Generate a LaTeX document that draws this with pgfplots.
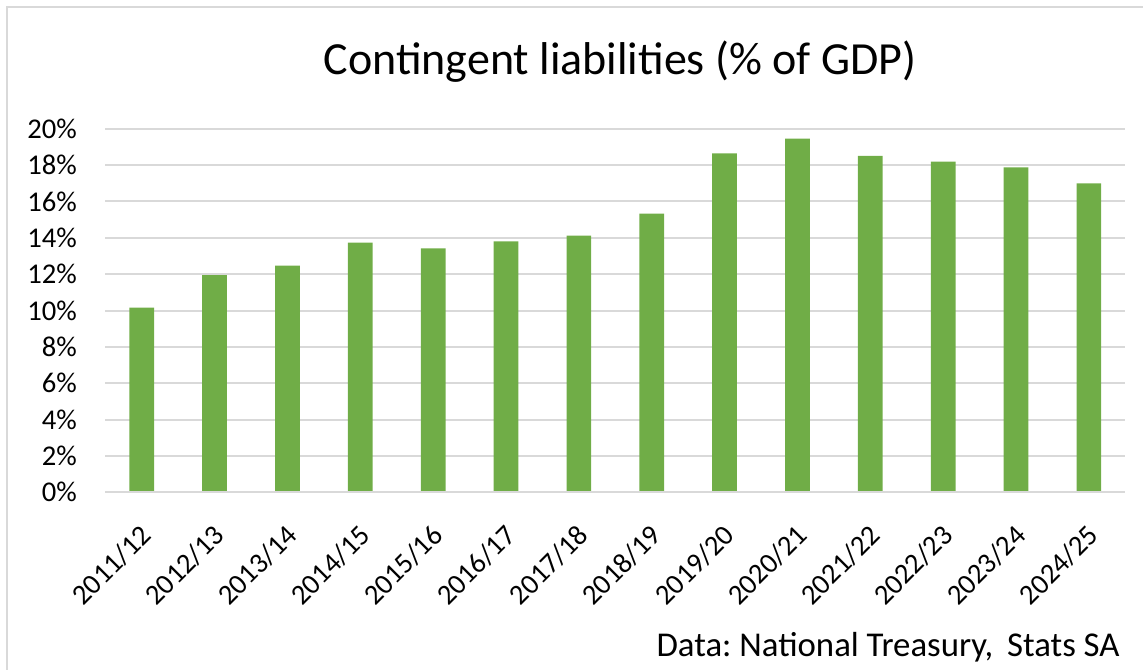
\documentclass[border=0pt]{standalone}
\usepackage{pgfplots}
\pgfplotsset{compat=1.18}
\usepackage{fontspec}
\setmainfont{Carlito}
\definecolor{bargreen}{HTML}{70AD47}
\definecolor{gridgray}{HTML}{D9D9D9}
\begin{document}
\frenchspacing
\begin{tikzpicture}
\useasboundingbox (0,0) rectangle (571.5pt,334.5pt);
\draw[gridgray, line width=1pt] (3.65pt,-2pt) -- (3.65pt,331.15pt) -- (575pt,331.15pt);
\begin{axis}[
  at={(52.65pt,88.35pt)}, anchor=south west,
  width=510pt, height=181.8pt, scale only axis,
  xmin=-0.5, xmax=13.5, ymin=0, ymax=20,
  axis line style={draw=none},
  ytick={0,2,...,20},
  xtick={0,...,13},
  xticklabels={2011/12,2012/13,2013/14,2014/15,2015/16,2016/17,2017/18,2018/19,2019/20,2020/21,2021/22,2022/23,2023/24,2024/25},
  major tick length=0pt,
  ymajorgrids, grid style={gridgray, line width=1pt},
  /pgf/number format/assume math mode=true,
  yticklabel={\pgfmathprintnumber{\tick}\%},
  ticklabel style={font=\fontsize{14.3pt}{17pt}\selectfont, text=black},
  yticklabel style={anchor=east, inner sep=0pt, xshift=-14pt},
  xticklabel style={xshift=2.5pt, yshift=-19pt, rotate=45, anchor=east, inner sep=0pt},
  clip=false,
]
\addplot[ybar, bar width=12.35pt, fill=bargreen, draw=none] coordinates {
(0,10.16) (1,11.95) (2,12.47) (3,13.73) (4,13.42) (5,13.80) (6,14.12)
(7,15.33) (8,18.64) (9,19.45) (10,18.50) (11,18.19) (12,17.87) (13,16.99)};
\draw[gridgray, line width=1pt] (axis cs:-0.5,0) -- (axis cs:13.5,0);
\end{axis}
\node[anchor=base, inner sep=0pt, font=\fontsize{23pt}{27pt}\selectfont] at (310pt,297pt) {Contingent liabilities (\% of GDP)};
\node[anchor=base east, inner sep=0pt, font=\fontsize{17.4pt}{20pt}\selectfont] at (560pt,6.15pt) {Data: National Treasury,\, Stats SA};
\end{tikzpicture}
\end{document}
